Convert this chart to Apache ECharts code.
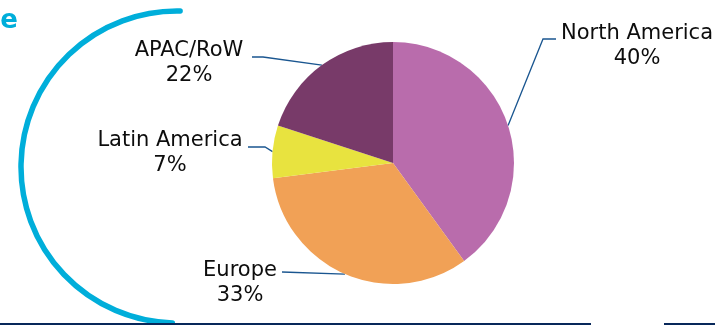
<!DOCTYPE html>
<html>
<head>
<meta charset="utf-8">
<script src="https://cdn.jsdelivr.net/npm/echarts@6/dist/echarts.min.js"></script>
<style>html,body{margin:0;padding:0;background:#fff;}#c{width:715px;height:325px;}</style>
</head>
<body>
<div id="c"></div>
<script>
const categories = ['North America', 'Europe', 'Latin America', 'APAC/RoW'];
const shares = [40, 33, 7, 20];
const shareLabels = ['40%', '33%', '7%', '22%'];
const colors = ['#B96CAC', '#F1A156', '#E8E33F', '#783A69'];

const chart = echarts.init(document.getElementById('c'), null, {renderer: 'canvas'});

// label anchor (centre of two-line block) and leader-line bends, per slice
const labelPos = [
  {x: 637, y: 46, bend: [[543, 39], [556, 39]]},
  {x: 240, y: 283, bend: [[282, 272]]},
  {x: 170, y: 153, bend: [[265, 147], [248, 147]]},
  {x: 189, y: 63, bend: [[263, 57], [252, 57]]}
];

const option = {
  animation: false,
  backgroundColor: '#ffffff',
  graphic: [
    {
      type: 'arc', z: 1,
      shape: {cx: 177, cy: 167, r: 156, startAngle: -Math.PI / 2 + 0.02, endAngle: Math.PI / 2 + 0.03, clockwise: false},
      style: {stroke: '#00AEDA', lineWidth: 5.5, fill: 'none', lineCap: 'round'}
    },
    {
      type: 'line', z: 2,
      shape: {x1: 0, y1: 324, x2: 591, y2: 324},
      style: {stroke: '#08285A', lineWidth: 2}
    },
    {
      type: 'line', z: 2,
      shape: {x1: 664, y1: 324, x2: 715, y2: 324},
      style: {stroke: '#08285A', lineWidth: 2}
    },
    {
      type: 'text', z: 2, x: 18, y: 21,
      style: {text: 'e', fill: '#00AEDA', font: 'bold 26px "DejaVu Sans"', textAlign: 'right', textVerticalAlign: 'middle'}
    }
  ],
  series: [{
    type: 'pie',
    center: [393, 163],
    radius: 121,
    startAngle: 90,
    clockwise: true,
    avoidLabelOverlap: false,
    itemStyle: {borderWidth: 0},
    data: categories.map((c, i) => ({name: c, value: shares[i], itemStyle: {color: colors[i]}})),
    label: {
      show: true,
      position: 'outside',
      formatter: p => p.name + '\n' + shareLabels[p.dataIndex],
      fontFamily: 'DejaVu Sans',
      fontSize: 21,
      lineHeight: 25,
      color: '#0d0d0d',
      align: 'center'
    },
    labelLine: {
      show: true,
      length: 10,
      length2: 10,
      lineStyle: {color: '#1A5690', width: 1.3}
    },
    labelLayout: function (params) {
      const i = params.dataIndex;
      const lp = labelPos[i];
      const start = params.labelLinePoints ? params.labelLinePoints[0] : lp.bend[0];
      return {
        x: lp.x,
        y: lp.y,
        align: 'center',
        verticalAlign: 'middle',
        labelLinePoints: [start].concat(lp.bend)
      };
    }
  }]
};
chart.setOption(option);
</script>
</body>
</html>
